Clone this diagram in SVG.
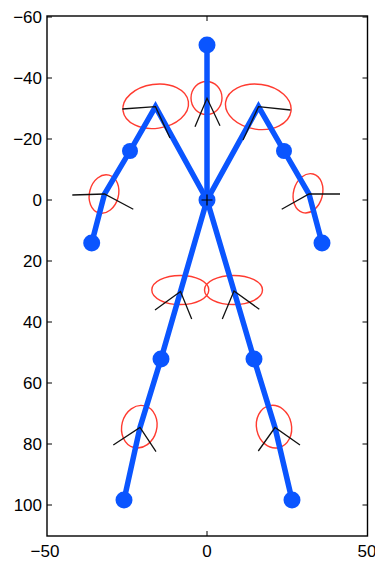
<svg xmlns="http://www.w3.org/2000/svg" width="375" height="561" viewBox="0 0 375 561">
<style>
.ax{fill:none;stroke:#000;stroke-width:1.4}
.tk{stroke:#000;stroke-width:1}
.lbl{font-family:"Liberation Sans",Arial,sans-serif;font-size:17px;fill:#000}
.bone{fill:none;stroke:#0a55ff;stroke-width:5.5;stroke-linejoin:miter;stroke-linecap:butt}
.dot{fill:#0a55ff}
.cov{fill:none;stroke:#ff3b30;stroke-width:1.4}
.ori{fill:none;stroke:#111;stroke-width:1.3}
</style>
<rect width="375" height="561" fill="#fff"/>
<g id="axes">
<rect class="ax" x="47" y="16" width="320.5" height="520"/>
<g class="tk">
<path d="M47,17h5M47,78h5M47,139h5M47,200h5M47,261h5M47,322h5M47,383h5M47,444h5M47,505h5"/>
<path d="M367.5,17h-5M367.5,78h-5M367.5,139h-5M367.5,200h-5M367.5,261h-5M367.5,322h-5M367.5,383h-5M367.5,444h-5M367.5,505h-5"/>
<path d="M207,16v5M207,536v-5"/>
</g>
<g class="lbl" text-anchor="end">
<text x="42" y="23">−60</text>
<text x="42" y="84">−40</text>
<text x="42" y="145">−20</text>
<text x="42" y="206">0</text>
<text x="42" y="267">20</text>
<text x="42" y="328">40</text>
<text x="42" y="389">60</text>
<text x="42" y="450">80</text>
<text x="42" y="511">100</text>
</g>
<g class="lbl" text-anchor="middle">
<text x="45" y="557">−50</text>
<text x="207" y="557">0</text>
<text x="367" y="557">50</text>
</g>
</g>
<g id="uncertainty">
<ellipse class="cov" cx="155.7" cy="106.3" rx="33" ry="22" transform="rotate(-8 155.7 106.3)"/>
<ellipse class="cov" cx="206.5" cy="98" rx="15.5" ry="16.5"/>
<ellipse class="cov" cx="258.3" cy="106.8" rx="33" ry="22.5" transform="rotate(8 258.3 106.8)"/>
<ellipse class="cov" cx="104" cy="194" rx="14.5" ry="19.5" transform="rotate(15 104 194)"/>
<ellipse class="cov" cx="308" cy="193.3" rx="14.5" ry="20" transform="rotate(15 308 193.3)"/>
<ellipse class="cov" cx="180.3" cy="290" rx="28.5" ry="14.5"/>
<ellipse class="cov" cx="233.5" cy="290" rx="29" ry="14.5"/>
<ellipse class="cov" cx="139.3" cy="426.7" rx="17.5" ry="21.5" transform="rotate(15 139.3 426.7)"/>
<ellipse class="cov" cx="274" cy="426.7" rx="17.5" ry="21.5" transform="rotate(-12 274 426.7)"/>
</g>
<g id="connectors">
<polyline class="bone" points="207,45 207,200"/>
<polyline class="bone" points="207,200 155.5,106.7 130,151 104.5,194 91.7,243"/>
<polyline class="bone" points="207,200 258.5,106.7 284,151 309,194 322,243"/>
<polyline class="bone" points="207,200 180.5,291.5 161,359 140,427.5 124,500"/>
<polyline class="bone" points="207,200 234,291 254,359 275,427.5 292,500"/>
</g>
<g id="joints">
<g id="head"><circle class="dot" cx="207" cy="45" r="8.5"/></g>
<g id="neck"><polyline class="ori" points="195,126.7 207,98.3 220,125.7"/></g>
<g id="torso"><circle class="dot" cx="207" cy="200" r="8.5"/><path d="M201.5,200h11M207,194.5v11" stroke="#000" stroke-width="1.2"/></g>
<g id="l-shoulder"><polyline class="ori" points="122.3,109 155.5,106.7 170,138"/></g>
<g id="r-shoulder"><polyline class="ori" points="290.5,110 258.5,106.7 243,140"/></g>
<g id="l-elbow"><circle class="dot" cx="130" cy="151" r="8"/></g>
<g id="r-elbow"><circle class="dot" cx="284" cy="151" r="8"/></g>
<g id="l-wrist"><polyline class="ori" points="72.3,195 104.5,194 133.3,209.3"/></g>
<g id="r-wrist"><polyline class="ori" points="340,194 309,194 281.7,209.3"/></g>
<g id="l-hand"><circle class="dot" cx="91.7" cy="243" r="8.5"/></g>
<g id="r-hand"><circle class="dot" cx="322" cy="243" r="8.5"/></g>
<g id="l-hip"><polyline class="ori" points="155,310 180.5,291.5 191.7,319"/></g>
<g id="r-hip"><polyline class="ori" points="222.3,319 234,291 259.3,309.3"/></g>
<g id="l-knee"><circle class="dot" cx="161" cy="359" r="8.5"/></g>
<g id="r-knee"><circle class="dot" cx="254" cy="359" r="8.5"/></g>
<g id="l-ankle"><polyline class="ori" points="113.3,445 140,427.5 156,451.7"/></g>
<g id="r-ankle"><polyline class="ori" points="258.3,451 275,427.5 300,445"/></g>
<g id="l-foot"><circle class="dot" cx="124" cy="500" r="8.5"/></g>
<g id="r-foot"><circle class="dot" cx="292" cy="500" r="8.5"/></g>
</g>
</svg>
